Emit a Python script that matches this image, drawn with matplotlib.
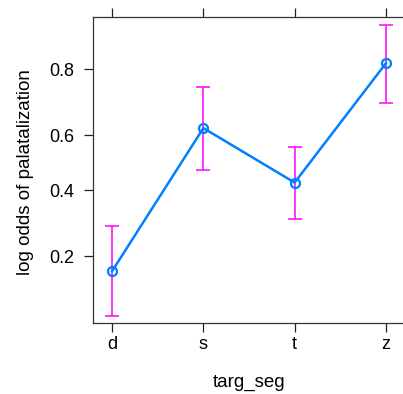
import numpy as np
import matplotlib
matplotlib.use('Agg')
import matplotlib.pyplot as plt

plt.rcParams['font.family'] = ['Liberation Sans', 'DejaVu Sans']

# effect estimates (probabilities shown on a logit axis)
segments = ['d', 's', 't', 'z']
fit = [0.167, 0.626, 0.427, 0.814]
lower = [0.093, 0.474, 0.304, 0.709]
upper = [0.282, 0.754, 0.560, 0.886]
ytick_vals = [0.2, 0.4, 0.6, 0.8]
ytick_labels = ['0.2', '0.4', '0.6', '0.8']

fig = plt.figure(figsize=(4.03, 3.94), dpi=100)
ax = fig.add_axes([93 / 403, 1 - 323 / 394, 316 / 403, 306 / 394])

x = np.arange(len(segments))
fit = np.array(fit)
yerr = np.vstack([fit - np.array(lower), np.array(upper) - fit])

ax.errorbar(x, fit, yerr=yerr, fmt='none', ecolor='#FF00FF', elinewidth=1.1,
            capsize=5, capthick=1.1, zorder=2)
ax.plot(x, fit, color='#0080FF', lw=1.8, marker='o', ms=6.5, mfc='none',
        mec='#0080FF', mew=1.6, zorder=3)

ax.set_yscale('logit')
ax.set_ylim(0.0848, 0.897)
ax.set_xlim(-0.21, 3.21 + 0.044)
ax.set_yticks(ytick_vals)
ax.set_yticklabels(ytick_labels)
ax.yaxis.set_minor_locator(matplotlib.ticker.NullLocator())
ax.yaxis.set_minor_formatter(matplotlib.ticker.NullFormatter())
ax.set_xticks(x)
ax.set_xticklabels(segments)

ax.tick_params(axis='both', direction='out', length=6.5, width=0.9,
               color='#222222', labelsize=13, labelcolor='black')
ax.tick_params(axis='y', pad=7)
ax.tick_params(axis='x', top=True, pad=3)
for s in ax.spines.values():
    s.set_linewidth(0.9)
    s.set_color('#333333')

ax.set_xlabel('targ_seg', fontsize=13.5, va='center')
ax.set_ylabel('log odds of palatalization', fontsize=13.5, va='center')
ax.xaxis.set_label_coords(0.5 - 2 / 316, -0.193)
ax.yaxis.set_label_coords(-68 / 316, 0.493)

fig.savefig('out.png', dpi=100)
